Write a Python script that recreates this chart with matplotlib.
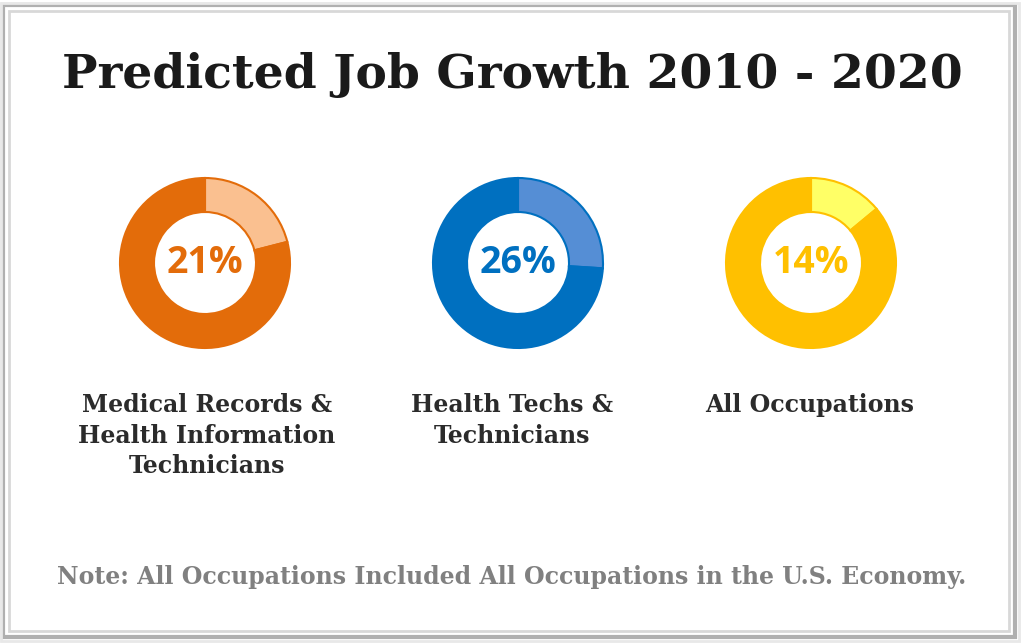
import matplotlib.pyplot as plt
from matplotlib.patches import Rectangle

# data
categories = ['Medical Records &\nHealth Information\nTechnicians',
              'Health Techs &\nTechnicians',
              'All Occupations']
growth = [21, 26, 14]
main_colors = ['#E36C0A', '#0070C0', '#FFC000']
light_colors = ['#FAC090', '#558ED5', '#FFFF66']
title = 'Predicted Job Growth 2010 - 2020'
note = 'Note: All Occupations Included All Occupations in the U.S. Economy.'

W, H = 1024, 643
fig = plt.figure(figsize=(W / 100, H / 100), dpi=100)
fig.patch.set_facecolor('white')

# frame
fig.patches.append(Rectangle((3 / W, 6 / H), 1012 / W, 632 / H, transform=fig.transFigure,
                             facecolor='none', edgecolor='#b0b0b0', linewidth=3))
fig.patches.append(Rectangle((9 / W, 12 / H), 1000 / W, 620 / H, transform=fig.transFigure,
                             facecolor='none', edgecolor='#d8d8d8', linewidth=2))
fig.patches.append(Rectangle((1 / W, 2 / H), 1018 / W, 638 / H, transform=fig.transFigure,
                             facecolor='none', edgecolor='#e8e8e8', linewidth=2))

fig.text(0.5, 1 - 75 / H, title, ha='center', va='center', fontsize=34,
         fontweight='bold', family='DejaVu Serif', color='#1a1a1a')

centers_x = [205, 518, 811]
label_x = [207, 512, 810]
cy = 263
r_px = 85
half = 95
for i in range(3):
    ax = fig.add_axes([(centers_x[i] - half) / W, (H - cy - half) / H, 2 * half / W, 2 * half / H])
    lim = half / r_px
    wedges, _ = ax.pie([growth[i], 100 - growth[i]], colors=[light_colors[i], main_colors[i]],
                       startangle=90, counterclock=False, radius=1,
                       wedgeprops=dict(width=0.4, edgecolor=main_colors[i], linewidth=1.5))
    ax.set_xlim(-lim, lim)
    ax.set_ylim(-lim, lim)
    ax.set_aspect('equal')
    ax.axis('off')
    ax.text(0, 0, f'{growth[i]}%', ha='center', va='center', fontsize=27,
            fontweight='bold', family='Open Sans', color=main_colors[i])
    fig.text(label_x[i] / W, 1 - 393 / H, categories[i], ha='center', va='top',
             fontsize=17, fontweight='bold', family='DejaVu Serif', color='#2b2b2b',
             linespacing=1.35)

fig.text(0.5, 1 - 577 / H, note, ha='center', va='center', fontsize=17,
         fontweight='bold', family='DejaVu Serif', color='#808080')

fig.savefig('out.png', dpi=100)
